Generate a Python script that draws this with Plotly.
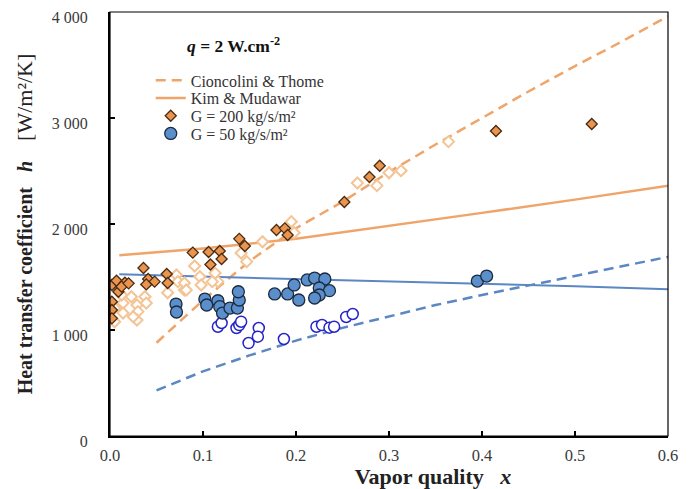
import plotly.graph_objects as go

# ---------------- data ----------------
ct_x = [0.05, 0.1, 0.15, 0.2, 0.25, 0.3, 0.35, 0.4, 0.45, 0.5, 0.55, 0.6]
ct200_y = [880, 1280, 1650, 1960, 2210, 2490, 2750, 3000, 3250, 3490, 3720, 3960]
ct50_y = [430, 610, 760, 900, 1020, 1130, 1235, 1330, 1420, 1510, 1600, 1690]

km_x = [0.01, 0.1, 0.2, 0.3, 0.4, 0.5, 0.6]
km200_y = [1705, 1770, 1860, 1980, 2105, 2230, 2360]
km50_y = [1525, 1505, 1482, 1462, 1440, 1412, 1385]

g200_x = [0.518, 0.415, 0.29, 0.279, 0.252, 0.179, 0.188, 0.191, 0.139, 0.145,
          0.089, 0.106, 0.118, 0.12, 0.108, 0.036, 0.061, 0.062, 0.041, 0.048,
          0.039, 0.002, 0.007, 0.016, 0.009, 0.002, 0.002, 0.002, 0.0125, 0.02]
g200_y = [2943, 2877, 2550, 2443, 2208, 1943, 1959, 1896, 1860, 1792,
          1730, 1736, 1745, 1670, 1618, 1585, 1528, 1443, 1481, 1456,
          1430, 1425, 1465, 1446, 1361, 1267, 1189, 1110, 1409, 1440]

g200o_x = [0.014, 0.014, 0.0125, 0.023, 0.029, 0.03, 0.029, 0.025, 0.0376, 0.039,
           0.005, 0.005, 0.0715, 0.073, 0.08, 0.062, 0.08, 0.091, 0.0966, 0.098,
           0.082, 0.113, 0.116, 0.141, 0.147, 0.164, 0.195, 0.198, 0.266, 0.287,
           0.3, 0.313, 0.364, 0.11]
g200o_y = [1254, 1160, 1330, 1314, 1236, 1173, 1094, 1125, 1314, 1254,
           1207, 1078, 1519, 1456, 1377, 1352, 1443, 1604, 1503, 1425,
           1377, 1537, 1456, 1726, 1645, 1833, 2022, 1918, 2387, 2362,
           2484, 2503, 2777, 1456]

g50_x = [0.071, 0.0715, 0.102, 0.104, 0.116, 0.118, 0.121, 0.129, 0.137, 0.139,
         0.138, 0.177, 0.191, 0.198, 0.203, 0.212, 0.22, 0.231, 0.225, 0.236,
         0.225, 0.22, 0.395, 0.405]
g50_y = [1245, 1170, 1292, 1236, 1276, 1220, 1160, 1207, 1207, 1283,
         1361, 1340, 1340, 1425, 1283, 1472, 1490, 1481, 1396, 1371,
         1330, 1302, 1462, 1509]

g50o_x = [0.116, 0.12, 0.136, 0.139, 0.141, 0.16, 0.159, 0.149, 0.187, 0.222,
          0.228, 0.236, 0.241, 0.254, 0.261]
g50o_y = [1031, 1066, 1019, 1047, 1078, 1019, 937, 877, 915, 1031,
          1047, 1022, 1031, 1123, 1151]

x_ticks = [0.0, 0.1, 0.2, 0.3, 0.4, 0.5, 0.6]
y_ticks = [0, 1000, 2000, 3000, 4000]
y_ticklabels = ["0", "1 000", "2 000", "3 000", "4 000"]

# ---------------- styles ----------------
ORANGE_LINE = "#EFA46A"
ORANGE_FILL = "#E9944F"
ORANGE_EDGE = "#4A2A10"
ORANGE_OPEN = "#F4C495"
BLUE_LINE = "#5B87C2"
BLUE_FILL = "#5B8FCB"
BLUE_EDGE = "#1C2A40"
BLUE_OPEN = "#2424C8"
SERIF = "Liberation Serif, Times New Roman, serif"
NB = "&nbsp;"
DASH = "10px,6px"

fig = go.Figure()

fig.add_trace(go.Scatter(x=ct_x, y=ct200_y, mode="lines", name="Cioncolini & Thome",
                         legend="legend",
                         line=dict(color=ORANGE_LINE, width=2.5, dash=DASH)))
fig.add_trace(go.Scatter(x=km_x, y=km200_y, mode="lines", name="Kim & Mudawar",
                         legend="legend2",
                         line=dict(color=ORANGE_LINE, width=2.5)))
fig.add_trace(go.Scatter(x=ct_x, y=ct50_y, mode="lines", showlegend=False,
                         line=dict(color=BLUE_LINE, width=2.5, dash=DASH)))
fig.add_trace(go.Scatter(x=km_x, y=km50_y, mode="lines", showlegend=False,
                         line=dict(color=BLUE_LINE, width=2)))

fig.add_trace(go.Scatter(x=g200o_x, y=g200o_y, mode="markers", showlegend=False,
                         marker=dict(symbol="diamond", size=8.5, color="white",
                                     line=dict(color=ORANGE_OPEN, width=2))))
fig.add_trace(go.Scatter(x=g200_x, y=g200_y, mode="markers", name="G = 200 kg/s/m²",
                         legend="legend3",
                         marker=dict(symbol="diamond", size=8.5, color=ORANGE_FILL,
                                     line=dict(color=ORANGE_EDGE, width=1.3))))
fig.add_trace(go.Scatter(x=g50o_x, y=g50o_y, mode="markers", showlegend=False,
                         marker=dict(symbol="circle", size=11, color="white",
                                     line=dict(color=BLUE_OPEN, width=1.5))))
fig.add_trace(go.Scatter(x=g50_x, y=g50_y, mode="markers", name="G = 50 kg/s/m²",
                         legend="legend4",
                         marker=dict(symbol="circle", size=12, color=BLUE_FILL,
                                     line=dict(color=BLUE_EDGE, width=1.3))))

LEG = dict(x=0.073, xanchor="left", yanchor="middle", bgcolor="rgba(0,0,0,0)",
           font=dict(family=SERIF, size=16, color="#333"), itemwidth=30)

# page body has an 8px margin: size/margins compensate so the plot lands at the same place
fig.update_layout(
    width=683, height=481,
    margin=dict(l=102, r=23, t=4, b=53, autoexpand=False),
    plot_bgcolor="white", paper_bgcolor="white",
    font=dict(family=SERIF, size=15, color="#222"),
    showlegend=True,
    legend=dict(LEG, y=0.8386),
    legend2=dict(LEG, y=0.7968),
    legend3=dict(LEG, y=0.7551),
    legend4=dict(LEG, y=0.7133),
)

fig.update_xaxes(range=[0, 0.6], tickvals=x_ticks, tickformat=".1f",
                 ticks="inside", ticklen=5, tickwidth=1.5, tickcolor="black",
                 showline=True, linecolor="black", linewidth=2, showgrid=False,
                 zeroline=False, automargin=False, ticklabelstandoff=3,
                 ticklabeloverflow="allow",
                 tickfont=dict(family=SERIF, size=16.5, color="#3a3a3a"),
                 title=dict(text=NB * 16 + "<b>Vapor quality" + NB * 3 + "<i>x</i></b>",
                            font=dict(family=SERIF, size=22, color="#222"), standoff=2))
fig.update_yaxes(range=[0, 4000], tickvals=y_ticks, ticktext=y_ticklabels,
                 ticks="inside", ticklen=5, tickwidth=1.5, tickcolor="black",
                 showline=True, linecolor="black", linewidth=2, showgrid=False,
                 zeroline=False, automargin=False, ticklabelstandoff=17,
                 ticklabeloverflow="allow", ticklabelshift=5,
                 tickfont=dict(family=SERIF, size=16, color="#3a3a3a"),
                 title=dict(text="<b>Heat transfer coefficient" + NB * 3 + "<i>h</i></b>" + NB * 4
                                 + "<span style='font-size:22px'>[W/m²/K]</span>",
                            font=dict(family=SERIF, size=20, color="#222"), standoff=14))

fig.add_shape(type="rect", xref="paper", yref="paper", x0=0, y0=0, x1=1, y1=1,
              line=dict(color="black", width=1.2), fillcolor="rgba(0,0,0,0)")

fig.add_annotation(xref="paper", yref="paper", x=0.135, y=0.922, xanchor="left", yanchor="middle",
                   text="<b><i>q</i> = 2 W.cm<sup>-2</sup></b>", showarrow=False,
                   font=dict(family=SERIF, size=17.5, color="#111"))

fig.write_html("out.html")
